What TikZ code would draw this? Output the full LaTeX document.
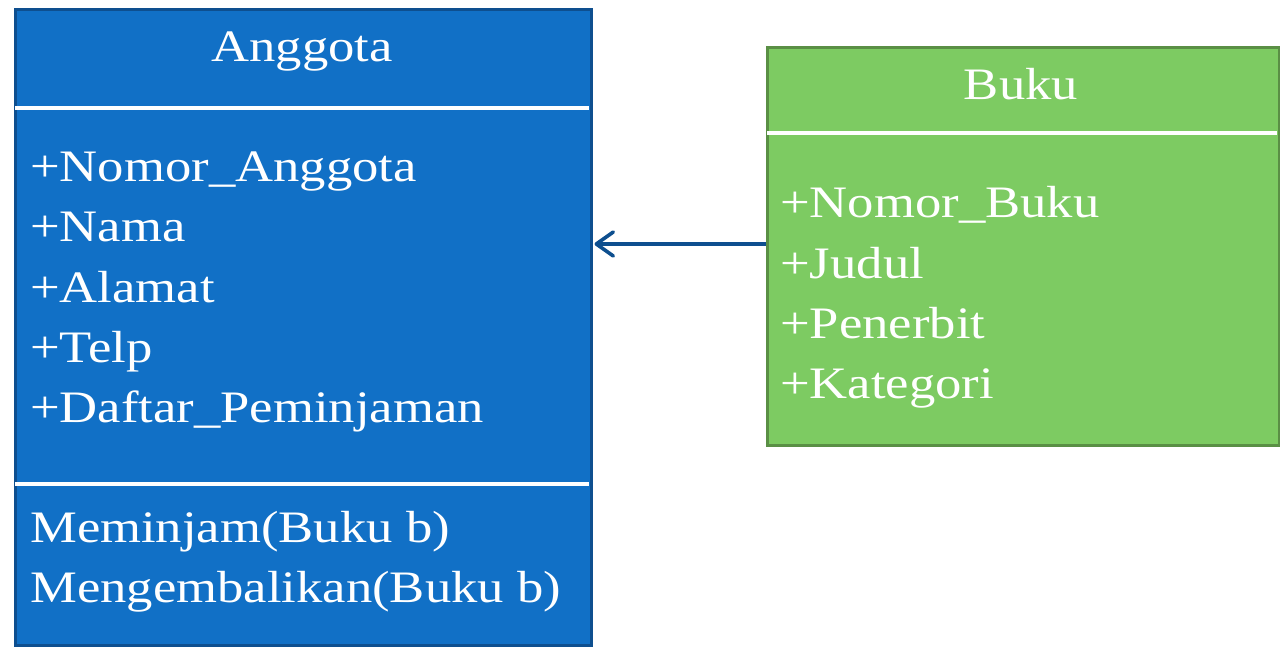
\documentclass[tikz,border=0pt]{standalone}
\usepackage{fontspec}
\setmainfont[FakeStretch=1.17]{Liberation Serif}
\usetikzlibrary{arrows.meta}
\definecolor{ablue}{HTML}{1170C6}
\definecolor{ablueline}{HTML}{0E4F8F}
\definecolor{bgreen}{HTML}{7DCB62}
\definecolor{bgreenline}{HTML}{5A8F45}
\tikzset{
  classbox/.style={draw, line width=3pt, anchor=north west, inner sep=0pt, rectangle},
  sepline/.style={white, line width=4pt},
  txt/.style={text=white, inner sep=0pt, font=\fontsize{45}{54}\selectfont},
  attr/.style={txt, anchor=base west},
  ttl/.style={txt, anchor=base},
  assoc/.style={ablueline, line width=3.6pt, -{Straight Barb[length=17pt,width=24pt,line cap=round,line join=round]}},
}
\begin{document}
\begin{tikzpicture}[x=1pt,y=-1pt]
\useasboundingbox (0,0) rectangle (1280,647);
% Anggota
\node (anggota) [classbox, fill=ablue, draw=ablueline, minimum width=576pt, minimum height=636pt] at (14,8) {};
\draw[sepline] (15,108) -- (589,108);
\draw[sepline] (15,484) -- (589,484);
\node (at) [ttl] at (302,62) {Anggota};
\node (a1) [attr] at (30,182) {+Nomor\_Anggota};
\node (a2) [attr] at (30,242) {+Nama};
\node (a3) [attr] at (30,302) {+Alamat};
\node (a4) [attr] at (30,362) {+Telp};
\node (a5) [attr] at (30,422) {+Daftar\_Peminjaman};
\node (m1) [attr] at (30,542) {Meminjam(Buku b)};
\node (m2) [attr] at (30,602) {Mengembalikan(Buku b)};
% Buku
\node (buku) [classbox, fill=bgreen, draw=bgreenline, minimum width=512pt, minimum height=398pt] at (766,46) {};
\draw[sepline] (767,133) -- (1277,133);
\node (bt) [ttl] at (1021,100) {Buku};
\node (b1) [attr] at (780,218) {+Nomor\_Buku};
\node (b2) [attr] at (780,278) {+Judul};
\node (b3) [attr] at (780,338) {+Penerbit};
\node (b4) [attr] at (780,398) {+Kategori};
% association
\coordinate (ay) at (0,244);
\draw[assoc] (buku.west |- ay) -- ([xshift=1.5pt]anggota.east |- ay);
\end{tikzpicture}
\end{document}
